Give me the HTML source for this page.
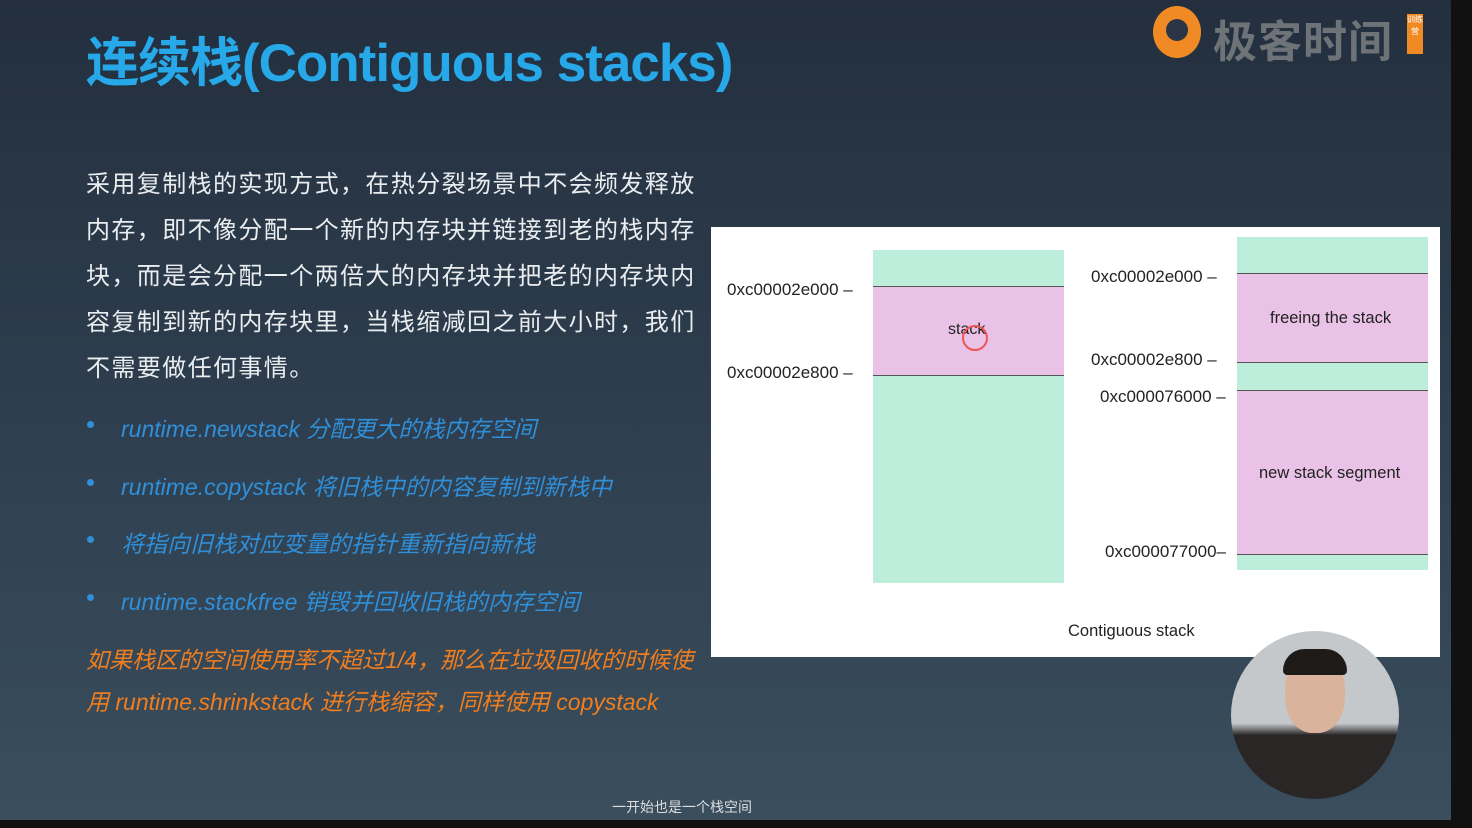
<!DOCTYPE html>
<html><head><meta charset="utf-8"><style>
body{margin:0;width:1472px;height:828px;overflow:hidden;background:#111;font-family:"Liberation Sans","Noto Sans CJK SC",sans-serif;}
#bg{position:absolute;left:0;top:0;width:1451px;height:820px;background:linear-gradient(180deg,#232f3e 0%,#2e3e4e 50%,#3a4e5e 100%);}
.a{position:absolute;white-space:nowrap;}
.t{color:#e9edf0;font-size:24px;letter-spacing:1.4px;left:86px;}
.b{color:#2f8fd8;font-style:italic;font-size:23px;left:121px;}
.dot{position:absolute;left:87px;width:7px;height:7px;border-radius:50%;background:#2f8fd8;}
.o{color:#f07d1e;font-style:italic;font-size:23px;left:86px;}
.l{font-size:17px;color:#222;}
</style></head><body>
<div id="bg"></div>
<div class="a" style="left:86px;top:21px;font-size:53px;font-weight:bold;color:#27a8e8;letter-spacing:-1px">连续栈(Contiguous stacks)</div>
<div class="a" style="left:1153px;top:6px;width:48px;height:52px;border-radius:50%;background:#f08a24"></div>
<div class="a" style="left:1166px;top:19px;width:22px;height:22px;border-radius:50%;background:#2a3646"></div>
<div class="a" style="left:1213px;top:6px;font-size:44px;font-weight:bold;color:#6e7378;letter-spacing:1px">极客时间</div>
<div class="a" style="left:1407px;top:14px;width:16px;height:40px;background:#f08a24;color:#fff;font-size:8px;line-height:12px;text-align:center;white-space:normal">训练营</div>

<div class="a t" style="top:164px">采用复制栈的实现方式，在热分裂场景中不会频发释放</div>
<div class="a t" style="top:210px">内存，即不像分配一个新的内存块并链接到老的栈内存</div>
<div class="a t" style="top:256px">块，而是会分配一个两倍大的内存块并把老的内存块内</div>
<div class="a t" style="top:302px">容复制到新的内存块里，当栈缩减回之前大小时，我们</div>
<div class="a t" style="top:348px">不需要做任何事情。</div>
<div class="dot" style="top:421px"></div><div class="a b" style="top:410px">runtime.newstack 分配更大的栈内存空间</div>
<div class="dot" style="top:479px"></div><div class="a b" style="top:468px">runtime.copystack 将旧栈中的内容复制到新栈中</div>
<div class="dot" style="top:536px"></div><div class="a b" style="top:525px">将指向旧栈对应变量的指针重新指向新栈</div>
<div class="dot" style="top:594px"></div><div class="a b" style="top:583px">runtime.stackfree 销毁并回收旧栈的内存空间</div>
<div class="a o" style="top:641px">如果栈区的空间使用率不超过1/4，那么在垃圾回收的时候使</div>
<div class="a o" style="top:683px">用 runtime.shrinkstack 进行栈缩容，同样使用 copystack</div>

<div class="a" style="left:711px;top:227px;width:729px;height:430px;background:#fff"></div>
<div class="a" style="left:873px;top:250px;width:191px;height:333px;background:#bdeedb"></div>
<div class="a" style="left:873px;top:286px;width:191px;height:88px;background:#eac2e8;border-top:1px solid #555;border-bottom:1px solid #555"></div>
<div class="a l" style="left:948px;top:321px;font-size:16px">stack</div>
<div class="a" style="left:962px;top:325px;width:26px;height:26px;border:2px solid #e55;border-radius:50%;box-sizing:border-box"></div>
<div class="a l" style="left:727px;top:280px">0xc00002e000 –</div>
<div class="a l" style="left:727px;top:363px">0xc00002e800 –</div>
<div class="a" style="left:1237px;top:237px;width:191px;height:333px;background:#bdeedb"></div>
<div class="a" style="left:1237px;top:273px;width:191px;height:88px;background:#eac2e8;border-top:1px solid #555;border-bottom:1px solid #555"></div>
<div class="a" style="left:1237px;top:390px;width:191px;height:163px;background:#eac2e8;border-top:1px solid #555;border-bottom:1px solid #555"></div>
<div class="a l" style="left:1270px;top:309px;font-size:16.5px">freeing the stack</div>
<div class="a l" style="left:1259px;top:464px;font-size:16.5px">new stack segment</div>
<div class="a l" style="left:1091px;top:267px">0xc00002e000 –</div>
<div class="a l" style="left:1091px;top:350px">0xc00002e800 –</div>
<div class="a l" style="left:1100px;top:387px">0xc000076000 –</div>
<div class="a l" style="left:1105px;top:542px">0xc000077000–</div>
<div class="a l" style="left:1068px;top:622px;font-size:16.5px">Contiguous stack</div>

<div class="a" style="left:1231px;top:631px;width:168px;height:168px;border-radius:50%;background:linear-gradient(180deg,#c4c8cb 0%,#c4c8cb 55%,#2a2626 62%,#2a2626 100%);overflow:hidden">
<div class="a" style="left:54px;top:22px;width:60px;height:80px;border-radius:45%;background:#d9b39c"></div>
<div class="a" style="left:52px;top:18px;width:64px;height:26px;border-radius:30px 30px 6px 6px;background:#1e1a18"></div>
</div>
<div class="a" style="left:612px;top:797px;font-size:14px;color:#ddd">一开始也是一个栈空间</div>
</body></html>
